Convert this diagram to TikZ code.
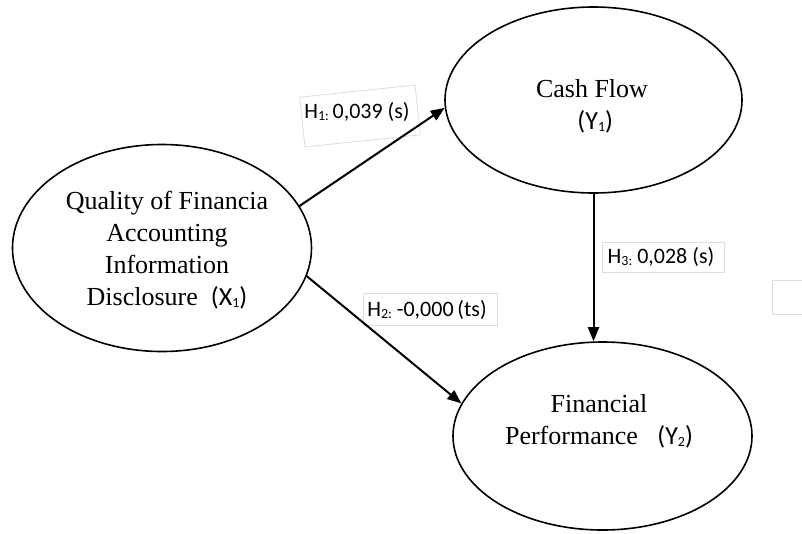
\documentclass[tikz,border=0pt]{standalone}
\usepackage{fontspec}
\setmainfont{Liberation Serif}
\newfontfamily\calib{Carlito}
\usetikzlibrary{shapes.geometric,arrows.meta}
\newcommand{\mysub}[1]{\raisebox{-2pt}{\fontsize{14}{14}\selectfont #1}}
\tikzset{
  ell/.style={ellipse, draw=black, line width=1.6pt, inner sep=0pt},
  maintext/.style={align=center, inner sep=0pt, font=\fontsize{26}{32}\selectfont},
  arr/.style={line width=2pt, -{Triangle[length=14pt,width=11pt]}},
  hbox/.style={draw=black!13, line width=0.8pt, fill=white, inner sep=0pt},
  hlabel/.style={inner sep=0pt, font=\calib\fontsize{22}{24}\selectfont},
}
\begin{document}
\begin{tikzpicture}[x=1pt,y=-1pt]
\useasboundingbox (0,0) rectangle (802,533);
% ellipses
\node[ell, minimum width=299pt, minimum height=207pt] (x1) at (162,248) {};
\node[ell, minimum width=297pt, minimum height=186pt] (y1) at (593.5,100) {};
\node[ell, minimum width=299pt, minimum height=188pt] (y2) at (602.5,436) {};
% texts
\node[maintext] (x1t) at (167,250) {Quality of Financia\\Accounting\\Information\\Disclosure\ \ {\calib(X\mysub{1})}};
\node[maintext] (y1t) at (592,106) {Cash Flow\\ \ {\calib(Y\mysub{1})}};
\node[maintext] (y2t) at (599,421) {Financial\\Performance\ \ \ {\calib(Y\mysub{2})}};
% label boxes
\node[hbox, minimum width=116pt, minimum height=50pt, rotate=6] (b1) at (360,116) {};
\node[hbox, minimum width=134pt, minimum height=32pt] (b2) at (430,309) {};
\node[hbox, minimum width=122pt, minimum height=30pt] (b3) at (663,257) {};
\draw[draw=black!13, line width=0.8pt] (805,280) -- (772,280) -- (772,314) -- (805,314);
% arrows
\draw[arr] (x1.17.5) -- (y1.183.9);
\draw[arr] (x1.-11.5) -- (y2.167.4);
\draw[arr] (y1.south) -- (y1.south |- y2.north);
% labels
\node[hlabel] (h1) at (357,112) {H\mysub{1:}\,0,039 (s)};
\node[hlabel] (h2) at (427,310) {H\mysub{2:} -0,000\,(ts)};
\node[hlabel] (h3) at (661,257) {H\mysub{3:}\ 0,028 (s)};
\end{tikzpicture}
\end{document}
